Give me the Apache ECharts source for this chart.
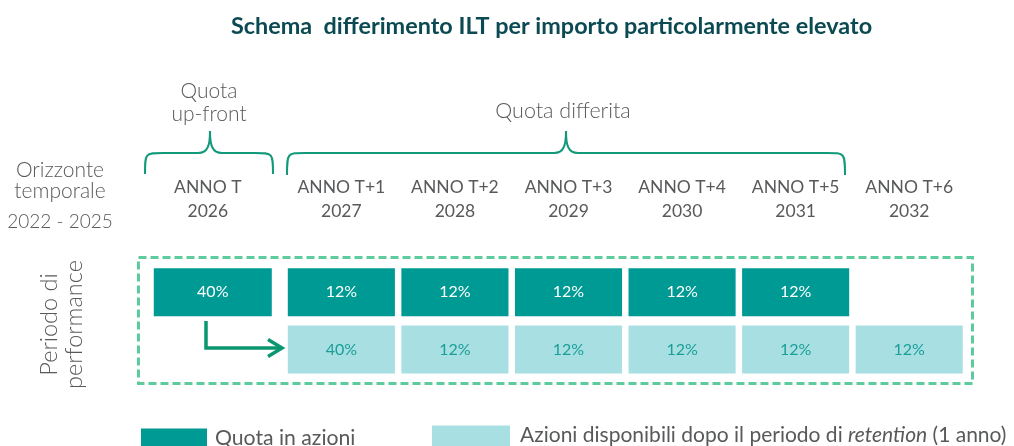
<!DOCTYPE html>
<html>
<head>
<meta charset="utf-8">
<script src="https://cdn.jsdelivr.net/npm/echarts@6/dist/echarts.min.js"></script>
<style>
  html, body { margin: 0; padding: 0; background: #fff; }
  #chart { width: 1014px; height: 446px; }
</style>
</head>
<body>
<div id="chart"></div>
<script>
const annoLabels = ['ANNO T', 'ANNO T+1', 'ANNO T+2', 'ANNO T+3', 'ANNO T+4', 'ANNO T+5', 'ANNO T+6']
const years = ['2026', '2027', '2028', '2029', '2030', '2031', '2032']
const rows = ['Quota in azioni', 'Azioni disponibili dopo il periodo di retention (1 anno)']
const quotaAzioni = [40, 12, 12, 12, 12, 12, null]
const azioniDisponibili = [null, 40, 12, 12, 12, 12, 12]

const DARK = '#009a94'
const LIGHT = '#a7dfe2'
const GREY = '#58595b'
const GREEN = '#12997a'
const FONT = 'Lato, sans-serif'

const chart = echarts.init(document.getElementById('chart'))

function toCells(values, row) {
  return values
    .map((v, i) => (v == null ? null : [i, row, v]))
    .filter(Boolean)
}

function makeRender(textColor) {
  return function (params, api) {
    const col = api.value(0)
    const pt = api.coord([col, api.value(1)])
    const band = api.size([1, 1])
    let w = band[0] * 0.943
    let cx = pt[0]
    // up-front column is a bit wider and sits apart from the others
    if (col === 0) {
      w = 118
      cx -= 15
    }
    const h = 48
    return {
      type: 'rect',
      shape: { x: cx - w / 2, y: pt[1] - h / 2, width: w, height: h },
      style: { fill: api.visual('color') },
      textContent: {
        style: {
          text: api.value(2) + '%',
          fill: textColor,
          font: '16px ' + FONT
        }
      },
      textConfig: { position: 'inside' }
    }
  }
}

// curly brace made of curves and straight lines
function brace(x0, x1, xm, yEnd, yBar, yPeak) {
  const r = 15
  const st = { fill: 'none', stroke: GREEN, lineWidth: 2 }
  return [
    { type: 'bezierCurve', shape: { x1: x0, y1: yEnd, cpx1: x0, cpy1: yBar, cpx2: x0, cpy2: yBar, x2: x0 + r + 3, y2: yBar }, style: st },
    { type: 'line', shape: { x1: x0 + r + 3, y1: yBar, x2: xm - 12, y2: yBar }, style: st },
    { type: 'bezierCurve', shape: { x1: xm - 12, y1: yBar, cpx1: xm - 2, cpy1: yBar, cpx2: xm, cpy2: yBar - 8, x2: xm, y2: yPeak }, style: st },
    { type: 'bezierCurve', shape: { x1: xm, y1: yPeak, cpx1: xm, cpy1: yBar - 8, cpx2: xm + 2, cpy2: yBar, x2: xm + 12, y2: yBar }, style: st },
    { type: 'line', shape: { x1: xm + 12, y1: yBar, x2: x1 - r - 3, y2: yBar }, style: st },
    { type: 'bezierCurve', shape: { x1: x1 - r - 3, y1: yBar, cpx1: x1, cpy1: yBar, cpx2: x1, cpy2: yBar, x2: x1, y2: yEnd }, style: st }
  ]
}

const labelFont = { fontFamily: FONT, fontSize: 17.5, color: GREY, lineHeight: 24 }

const option = {
  animation: false,
  title: {
    text: 'Schema  differimento ILT per importo particolarmente elevato',
    left: 226,
    top: 10,
    textStyle: { fontFamily: FONT, fontSize: 23.4, fontWeight: 'bold', color: '#0b4a52' }
  },
  grid: { left: 171, right: 48, top: 263.5, bottom: 68 },
  xAxis: {
    type: 'category',
    position: 'top',
    data: annoLabels,
    axisLine: { show: false },
    axisTick: { show: false },
    splitLine: { show: false },
    axisLabel: {
      margin: 40,
      interval: 0,
      formatter: (value, idx) => {
        const k = idx === 0 ? 'f' : 'a'
        return `{${k}|${value}}\n{${k}|${years[idx]}}`
      },
      rich: {
        a: labelFont,
        f: Object.assign({ padding: [0, 40, 0, 0] }, labelFont)
      }
    }
  },
  yAxis: {
    type: 'category',
    inverse: true,
    data: rows,
    axisLine: { show: false },
    axisTick: { show: false },
    axisLabel: { show: false },
    splitLine: { show: false }
  },
  legend: [
    {
      data: [rows[0]],
      left: 141,
      top: 428,
      padding: 0,
      itemWidth: 66,
      itemHeight: 20,
      icon: 'rect',
      textStyle: { fontFamily: FONT, fontSize: 21.2, color: GREY, padding: [0, 0, 6, 3] }
    },
    {
      data: [rows[1]],
      left: 432,
      top: 425,
      padding: 0,
      itemWidth: 78,
      itemHeight: 23,
      icon: 'rect',
      formatter: () => 'Azioni disponibili dopo il periodo di {i|retention} (1 anno)',
      textStyle: {
        fontFamily: FONT, fontSize: 21, color: GREY, padding: [0, 0, 3, 5],
        rich: { i: { fontFamily: FONT, fontSize: 21, color: GREY, fontStyle: 'italic' } }
      }
    }
  ],
  graphic: [
    {
      type: 'rect',
      shape: { x: 138.5, y: 257.5, width: 834, height: 126 },
      style: { fill: 'none', stroke: '#5ecb9c', lineWidth: 3, lineDash: [8, 4] }
    },
    ...brace(145, 273, 210, 174, 153, 131),
    ...brace(287, 845, 566, 175, 153, 131),
    {
      type: 'polyline',
      shape: { points: [[206, 321], [206, 348], [281, 348]] },
      style: { fill: 'none', stroke: '#0b9670', lineWidth: 3.5 }
    },
    {
      type: 'polyline',
      shape: { points: [[268, 339.5], [282, 348], [268, 356.5]] },
      style: { fill: 'none', stroke: '#0b9670', lineWidth: 3.5 }
    },
    {
      type: 'text',
      x: 209, y: 103,
      style: {
        text: 'Quota\nup-front', textAlign: 'center', textVerticalAlign: 'middle',
        font: '300 21px ' + FONT, fill: GREY, lineHeight: 23
      }
    },
    {
      type: 'text',
      x: 563, y: 111,
      style: {
        text: 'Quota differita', textAlign: 'center', textVerticalAlign: 'middle',
        font: '300 21.5px ' + FONT, fill: GREY
      }
    },
    {
      type: 'text',
      x: 60, y: 181,
      style: {
        text: 'Orizzonte\ntemporale', textAlign: 'center', textVerticalAlign: 'middle',
        font: '300 21px ' + FONT, fill: GREY, lineHeight: 21
      }
    },
    {
      type: 'text',
      x: 60, y: 222,
      style: {
        text: '2022 - 2025', textAlign: 'center', textVerticalAlign: 'middle',
        font: '300 19px ' + FONT, fill: GREY
      }
    },
    {
      type: 'text',
      x: 62, y: 324.5,
      rotation: Math.PI / 2,
      style: {
        text: 'Periodo di\nperformance', textAlign: 'center', textVerticalAlign: 'middle',
        font: '300 23.5px ' + FONT, fill: GREY, lineHeight: 25.5
      }
    }
  ],
  series: [
    {
      name: rows[0],
      type: 'custom',
      itemStyle: { color: DARK },
      renderItem: makeRender('#ffffff'),
      encode: { x: 0, y: 1 },
      data: toCells(quotaAzioni, 0)
    },
    {
      name: rows[1],
      type: 'custom',
      itemStyle: { color: LIGHT },
      renderItem: makeRender('#1a9e97'),
      encode: { x: 0, y: 1 },
      data: toCells(azioniDisponibili, 1)
    }
  ]
}

chart.setOption(option)
</script>
</body>
</html>
